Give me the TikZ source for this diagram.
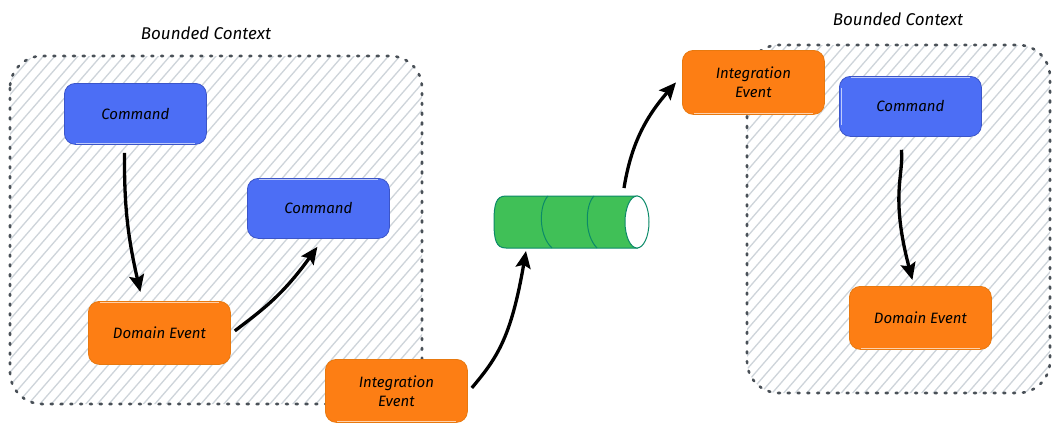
\documentclass[tikz,border=0pt]{standalone}
\usepackage{fontspec}
\setmainfont{Fira Sans}
\usetikzlibrary{arrows.meta,calc}
\definecolor{bluefill}{HTML}{4C6EF5}
\definecolor{bluestroke}{HTML}{3B55C9}
\definecolor{orangefill}{HTML}{FD7E14}
\definecolor{orangestroke}{HTML}{E8790F}
\definecolor{greenfill}{HTML}{40C057}
\definecolor{greenstroke}{HTML}{0B8A68}
\definecolor{hatchcol}{HTML}{CED4DA}
\definecolor{dotcol}{HTML}{495057}
\tikzset{
  x=1pt,y=-1pt,
  txt/.style={font=\fontsize{15}{19}\selectfont\itshape,text=black,align=center},
  card/.style={draw,line width=.8pt,rounded corners=11pt,minimum width=#1,anchor=north west,inner sep=0pt,txt},
  bluecard/.style={card=142pt,fill=bluefill,draw=bluestroke,minimum height=61pt},
  orangecard/.style={card=142pt,fill=orangefill,draw=orangestroke,minimum height=63pt},
  flow/.style={line width=3.3pt,black,-{Stealth[length=17pt,width=15pt,inset=3pt]}},
  boundary/.style={draw=dotcol,line width=2.6pt,line cap=round,dash pattern=on 2pt off 7.8pt},
  hatch/.style={hatchcol,line width=1.3pt},
  caption/.style={font=\fontsize{17}{20}\selectfont\itshape,text=black},
  tubeline/.style={draw=greenstroke,line width=1pt},
  glint/.style={draw=white,opacity=.65,line width=.8pt}
}
\begin{document}
\begin{tikzpicture}
\useasboundingbox (0,0) rectangle (1059,431);
\fill[white] (0,0) rectangle (1059,431);
% left context hatching
\begin{scope}
\clip[rounded corners=32pt] (10,56) rectangle (422,404);
\foreach \k in {-40,...,40} {\draw[hatch] (-20+\k*11.5,420) -- ++(400,-460);}
\end{scope}
\draw[boundary,rounded corners=32pt] (10,56) rectangle (422,404);
% right context hatching
\begin{scope}
\clip[rounded corners=32pt] (747,45) rectangle (1050,393);
\foreach \k in {-40,...,40} {\draw[hatch] (700+\k*11.5,410) -- ++(400,-460);}
\end{scope}
\draw[boundary,rounded corners=32pt] (747,45) rectangle (1050,393);
\node[caption] (capL) at (206,33) {Bounded Context};
\node[caption] (capR) at (898,19) {Bounded Context};
\node[bluecard] (cmdA) at (64,83) {\raisebox{1pt}{Command}};
\node[bluecard,minimum height=60pt] (cmdB) at (247,178) {\raisebox{1pt}{Command}};
\node[orangecard] (domA) at (88,301) {\raisebox{1pt}{Domain Event}};
\node[orangecard] (intA) at (325,359) {Integration\\Event};
\node[orangecard,minimum height=64pt] (intB) at (682,50) {Integration\\Event};
\node[bluecard,minimum height=60pt] (cmdC) at (839,76) {\raisebox{1pt}{Command}};
\node[orangecard] (domC) at (849,286) {\raisebox{1pt}{Domain Event}};
\foreach \n in {cmdA,intA,intB,domC} {\draw[glint] ($(\n.south west)+(12,-1.5)$) -- ($(\n.south east)+(-12,-1.5)$);}
\foreach \n in {cmdB,domA,cmdC} {\draw[glint] ($(\n.north west)+(12,1.5)$) -- ($(\n.north east)+(-12,1.5)$);}
\draw[glint] ($(cmdC.north west)+(2,12)$) -- ($(cmdC.south west)+(2,-12)$);
% tube
\coordinate (tube) at (570,222);
\fill[greenfill] (506,196) -- (637,196) -- (637,248) -- (506,248) .. controls (496,248) and (494,240) .. (494,222) .. controls (494,204) and (496,196) .. (506,196) -- cycle;
\draw[tubeline] (638,196) -- (506,196) .. controls (496,196) and (494,204) .. (494,222) .. controls (494,240) and (496,248) .. (506,248) -- (638,248);
\draw[tubeline,fill=white] (637,222) ellipse[x radius=12,y radius=26];
\draw[tubeline] (548,196) .. controls (539,205) and (538,235) .. (552,248);
\draw[tubeline] (594,196) .. controls (585,205) and (584,235) .. (597,248);
% connectors
\draw[flow] ($(cmdA.south)+(-11,8)$) .. controls ($(cmdA.south)+(-11,56)$) and ($(domA.north)+(-33,-70)$) .. ($(domA.north)+(-19,-9)$);
\draw[flow] ($(domA.east)+(4,-2)$) .. controls (262,310) and (282,296) .. ($(cmdB.south)+(-1,8)$);
\draw[flow] ($(intA.east)+(4,-3)$) .. controls (497,358) and (511,338) .. ($(tube)+(-44,29)$);
\draw[flow] ($(tube)+(54,-34)$) .. controls (631,145) and (645,118) .. ($(intB.west)+(-6,0)$);
\draw[flow] ($(cmdC.south)+(-9,13)$) .. controls (904,175) and (890,195) .. ($(domC.north)+(-8,-6)$);
\end{tikzpicture}
\end{document}
